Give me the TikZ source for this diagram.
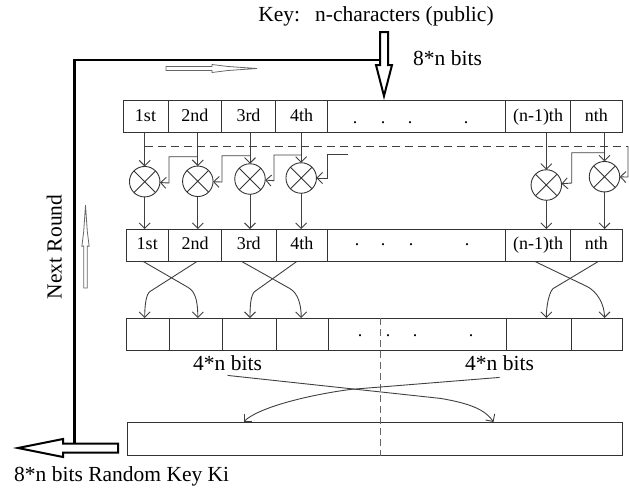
\documentclass[tikz,border=0pt]{standalone}
\usepackage{fontspec}
\setmainfont{Liberation Serif}
\usetikzlibrary{arrows.meta}

\tikzset{
  cellbox/.style={draw=black!80, line width=0.9pt, rectangle, inner sep=0pt, outer sep=0pt,
    text height=13pt, text depth=4pt, font=\fontsize{18}{20}\selectfont},
  xorop/.style={draw=black!80, line width=0.9pt, circle, minimum size=30.5pt, inner sep=0pt, outer sep=0pt,
    path picture={\draw[black!80, line width=0.9pt]
      (path picture bounding box.north west) -- (path picture bounding box.south east)
      (path picture bounding box.north east) -- (path picture bounding box.south west);}},
  conn/.style={draw=black!75, line width=0.9pt, -{Straight Barb[length=5.5pt,width=11pt]}},
  biglabel/.style={font=\fontsize{21.5}{24}\selectfont, inner sep=0pt},
  dotlabel/.style={font=\fontsize{18}{20}\selectfont, inner sep=0pt, anchor=base},
  hollow/.style={draw, line width=2pt, fill=white, line join=miter},
  slim/.style={draw=black!60, line width=0.8pt, fill=white}
}

\begin{document}
\begin{tikzpicture}[x=1pt, y=-1pt]
    \useasboundingbox (0,0) rectangle (629,490);
    \def\slimArrow{(0,-2) -- (46,-2) -- (46,-4) -- (62,-2) -- (91,0) -- (62,2) -- (46,4) -- (46,2) -- (0,2) -- cycle}

    % key input and feedback loop
    \node[biglabel, anchor=base] (keyin) at (376,21.7) {Key:\hspace{0.7em}n-characters (public)};
    \node[biglabel, anchor=base west] (bitsin) at (413,65) {8*n bits};
    \draw[line width=2.8pt, line join=miter] (380,60) -- (74.4,60) -- (74.4,443.5);
    \draw[hollow] (380,32) -- (388,32) -- (388,65) -- (392,65) -- (384,96) -- (376,65) -- (380,65) -- cycle;
    \draw[hollow] (118,443.5) -- (118,452.5) -- (63,452.5) -- (63,457) -- (18,448) -- (63,439) -- (63,443.5) -- cycle;
    \draw[slim, shift={(166,68.5)}] \slimArrow;
    \draw[slim, shift={(85.5,288)}, rotate=90, scale=0.91] \slimArrow;
    \node[biglabel, anchor=base, rotate=90] (round) at (61.7,247) {Next Round};
    \node[biglabel, anchor=base west] (keyout) at (14,481.7) {8*n bits Random Key Ki};

    % three rows of cells
    \foreach \xl/\xr/\txt [count=\i] in {123/168/1st, 168/221.5/2nd, 221.5/275.5/3rd, 275.5/327.5/4th, 327.5/505.5/{}, 505.5/570.5/(n-1)th, 570.5/622/nth}
        \node[cellbox, minimum width={(\xr-\xl)*1pt}, minimum height=32pt] (t\i) at ({(\xl+\xr)/2},116.5) {\txt};
    \foreach \xl/\xr/\txt [count=\i] in {126/168.5/1st, 168.5/221.5/2nd, 221.5/276/3rd, 276/327.5/4th, 327.5/505.5/{}, 505.5/570.5/(n-1)th, 570.5/622/nth}
        \node[cellbox, minimum width={(\xr-\xl)*1pt}, minimum height=32.5pt] (m\i) at ({(\xl+\xr)/2},245.25) {\txt};
    \foreach \xl/\xr [count=\i] in {126/169, 169/222.5, 222.5/276.5, 276.5/328, 328/506.5, 506.5/571, 571/622}
        \node[cellbox, minimum width={(\xr-\xl)*1pt}, minimum height=32pt] (b\i) at ({(\xl+\xr)/2},334) {};
    \node[cellbox, minimum width=495pt, minimum height=33.5pt] (key) at (374.5,438.75) {};

    \foreach \x [count=\i] in {355,383,410,466} \node[dotlabel] (da\i) at (\x,123) {.};
    \foreach \x [count=\i] in {357,383,411,467} \node[dotlabel] (db\i) at (\x,245.5) {.};
    \foreach \x [count=\i] in {360,388,415,471} \node[dotlabel] (dc\i) at (\x,336.5) {.};

    % xor stage
    \foreach \x/\y [count=\i] in {144.7/181.7, 197.8/181.3, 250/179, 301.2/178, 546.3/185, 604.5/176.7}
        \node[xorop] (c\i) at (\x,\y) {};
    \foreach \i/\j in {1/1, 2/2, 3/3, 4/4, 5/6, 6/7} {
        \draw[conn] (c\i |- t\j.south) -- (c\i);
        \draw[conn] (c\i) -- (c\i |- m\j.north);
    }
    \coordinate (f4) at (348,154.3);
    \draw[conn] (c2 |- 0,156.7) -| (169,183) -- (c1);
    \draw[conn] (c3 |- 0,155.7) -| (222,182) -- (c2);
    \draw[conn] (c4 |- 0,155) -| (274,180.7) -- (c3);
    \draw[conn] (f4) -| (327,178) -- (c4);
    \draw[conn] (c6 |- 0,152.7) -| (571.7,183) -- (c5);
    \draw[draw=black!75, line width=0.9pt, dash pattern=on 8pt off 5pt] (c1 |- 0,146) -- (628,146);
    \draw[conn] (628,146) -- (628,177) -- (c6);

    % swap of neighbours
    \draw[conn] ([xshift=-4pt]m1.south) -- ++(45,26) .. controls +(8,4.6) and +(0,-14) .. (c2 |- b2.north);
    \draw[conn] ([xshift=2pt]m2.south) -- ++(-47,30) .. controls +(-4,2.5) and +(0,-12) .. (c1 |- b1.north);
    \draw[conn] ([xshift=-7pt]m3.south) -- ++(48,27) .. controls +(8,4.5) and +(0,-14) .. (c4 |- b4.north);
    \draw[conn] ([xshift=-5pt]m4.south) -- ++(-42,30) .. controls +(-4,3) and +(0,-12) .. (c3 |- b3.north);
    \draw[conn] ([xshift=-3pt]m6.south) -- ++(52,25) .. controls +(10,5) and +(0,-14) .. (c6 |- b7.north);
    \draw[conn] ([xshift=2pt]m7.south) -- ++(-45,27) .. controls +(-4,3) and +(0,-12) .. (c5 |- b6.north);

    % swap of halves
    \draw[draw=black!60, line width=0.9pt, dash pattern=on 7pt off 4pt] (380,318) -- (380,455.5);
    \node[biglabel, anchor=base west] (la) at (193,370) {4*n bits};
    \node[biglabel, anchor=base west] (lb) at (465,370) {4*n bits};
    \draw[conn] ([yshift=-5pt]la.south) -- ++(213,23) .. controls +(30,5) and +(-8,-12) .. ([xshift=119pt]key.north);
    \draw[conn] ([yshift=-7pt]lb.south) -- ++(-149,12) .. controls +(-45,6) and +(14,-14) .. ([xshift=-131pt]key.north);
\end{tikzpicture}
\end{document}
